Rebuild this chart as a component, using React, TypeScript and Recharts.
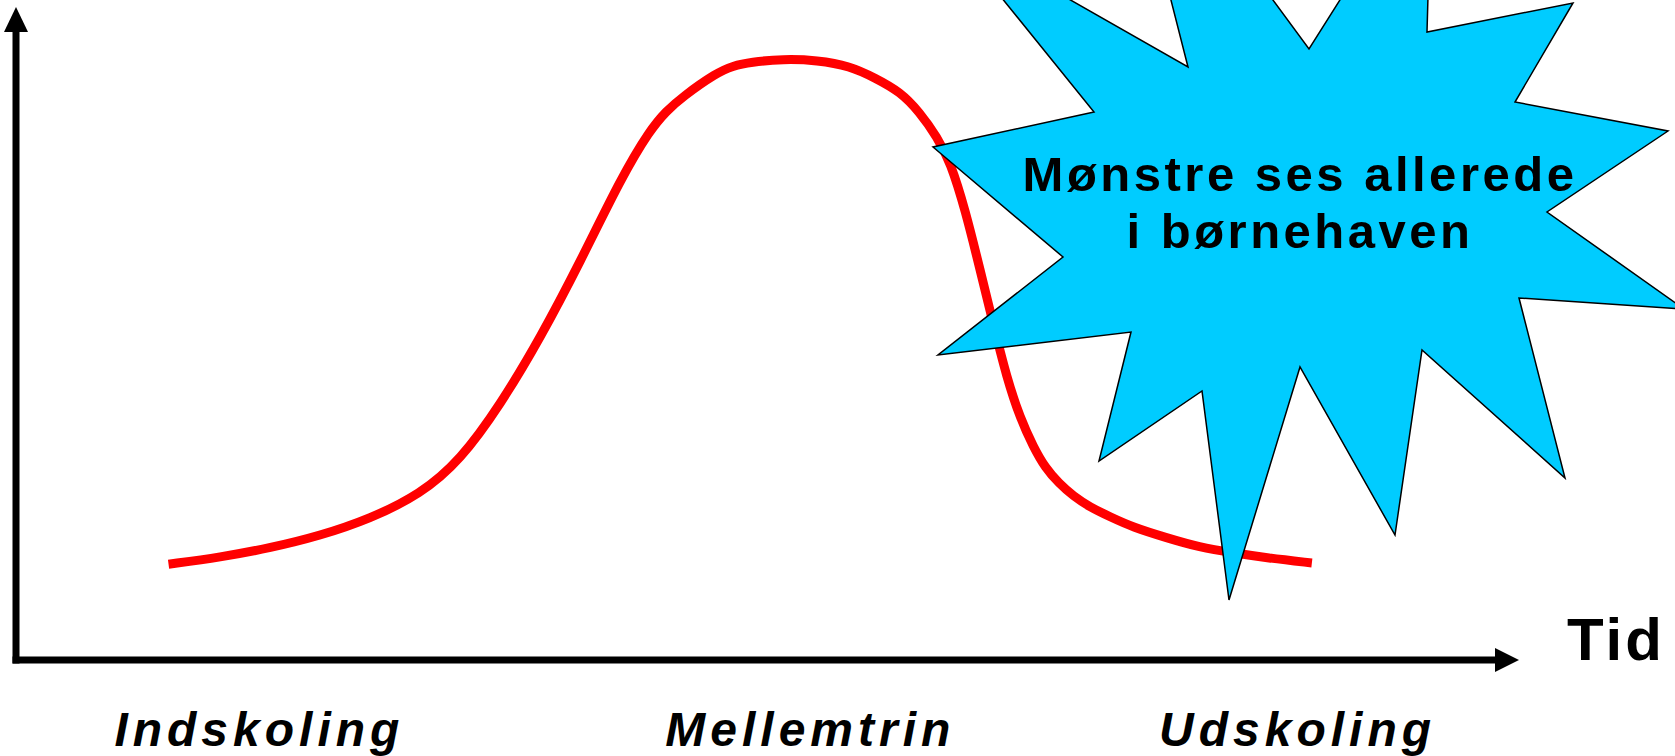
import React from 'react';
import { LineChart, Line, XAxis, YAxis, Customized } from 'recharts';

// curve: time (0-100) vs level (0-100)
const timeValues = [
  10.3, 13.8, 17.2, 20.5, 23.9, 27.3, 30.0, 32.7, 35.4, 38.1, 40.9, 42.8, 43.9, 45.0,
  47.3, 48.4, 49.6, 51.8, 54.1, 56.3, 58.0, 59.7, 61.0, 62.2, 63.1, 64.1, 65.1, 66.0,
  66.9, 67.8, 68.7, 69.5, 70.4, 71.4, 72.5, 73.9, 75.4, 77.7, 79.9, 82.2, 84.5, 87.5,
];
const levelValues = [
  15.2, 16.3, 17.8, 19.7, 22.4, 26.3, 31.7, 40.5, 51.1, 63.2, 76.7, 84.1, 87.1, 89.4,
  93.2, 94.3, 94.9, 95.4, 95.2, 94.3, 92.4, 90.2, 87.0, 83.0, 79.0, 71.4, 61.9, 53.2,
  44.8, 38.4, 33.8, 30.5, 28.1, 26.0, 24.3, 22.7, 21.1, 19.4, 17.9, 17.0, 16.2, 15.4,
];
const phaseTicks = [16.3, 53.5, 86.4];
const phaseLabels = ['Indskoling', 'Mellemtrin', 'Udskoling'];
const calloutLines = ['Mønstre ses allerede', 'i børnehaven'];

const curveData = timeValues.map((t, i) => ({ t, level: levelValues[i] }));

const W = 1675;
const H = 756;
const FONT = '"Liberation Sans", Arial, sans-serif';

// starburst outline (pixel coords of the page)
const starPoints = [
  [946, -71], [1188, 67], [1117, -212], [1309, 49], [1432, -146], [1427, 32],
  [1573, 3], [1515, 102], [1668, 131], [1547, 212], [1684, 309], [1519, 298],
  [1565, 478], [1422, 350], [1395, 535], [1300, 367], [1229, 600], [1202, 391],
  [1099, 461], [1131, 332], [938, 355], [1063, 257], [933, 147], [1094, 112],
];

const PhaseTick = (props: any) => {
  const { x, payload } = props;
  const idx = phaseTicks.indexOf(payload.value);
  return (
    <text
      x={x + 2}
      y={746}
      textAnchor="middle"
      fontFamily={FONT}
      fontWeight="bold"
      fontStyle="italic"
      fontSize={48}
      letterSpacing={5}
      fill="#000"
    >
      {phaseLabels[idx]}
    </text>
  );
};

const AxisArrows = () => (
  <g>
    <polygon points="16,7 4,32 28,32" fill="#000" />
    <polygon points="1519,660 1495,648 1495,672" fill="#000" />
    <text x={1567} y={660} fontFamily={FONT} fontWeight="bold" fontSize={60} letterSpacing={3} fill="#000">
      Tid
    </text>
  </g>
);

export default function App() {
  return (
    <div style={{ position: 'absolute', left: 0, top: 0, width: W, height: H, background: '#fff' }}>
      <LineChart
        width={W}
        height={H}
        data={curveData}
        margin={{ top: 30, right: 178, left: 0, bottom: 0 }}
      >
        <XAxis
          dataKey="t"
          type="number"
          domain={[0, 100]}
          ticks={phaseTicks}
          tick={<PhaseTick />}
          tickLine={false}
          height={96}
          axisLine={{ stroke: '#000', strokeWidth: 7, strokeLinecap: 'square' }}
        />
        <YAxis
          type="number"
          domain={[0, 100]}
          width={16}
          tick={false}
          tickLine={false}
          axisLine={{ stroke: '#000', strokeWidth: 7, strokeLinecap: 'square' }}
        />
        <Line
          type="basis"
          dataKey="level"
          stroke="#ff0000"
          strokeWidth={9}
          dot={false}
          activeDot={false}
          isAnimationActive={false}
        />
        <Customized component={AxisArrows} />
      </LineChart>
      <svg
        width={W}
        height={H}
        style={{ position: 'absolute', left: 0, top: 0, pointerEvents: 'none' }}
      >
        <polygon
          points={starPoints.map((p) => p.join(',')).join(' ')}
          fill="#00ccff"
          stroke="#000"
          strokeWidth={1.5}
        />
        {calloutLines.map((line, i) => (
          <text
            key={line}
            x={1300}
            y={191 + i * 57}
            textAnchor="middle"
            fontFamily={FONT}
            fontWeight="bold"
            fontSize={49}
            letterSpacing={3.5}
            fill="#000"
          >
            {line}
          </text>
        ))}
      </svg>
    </div>
  );
}
